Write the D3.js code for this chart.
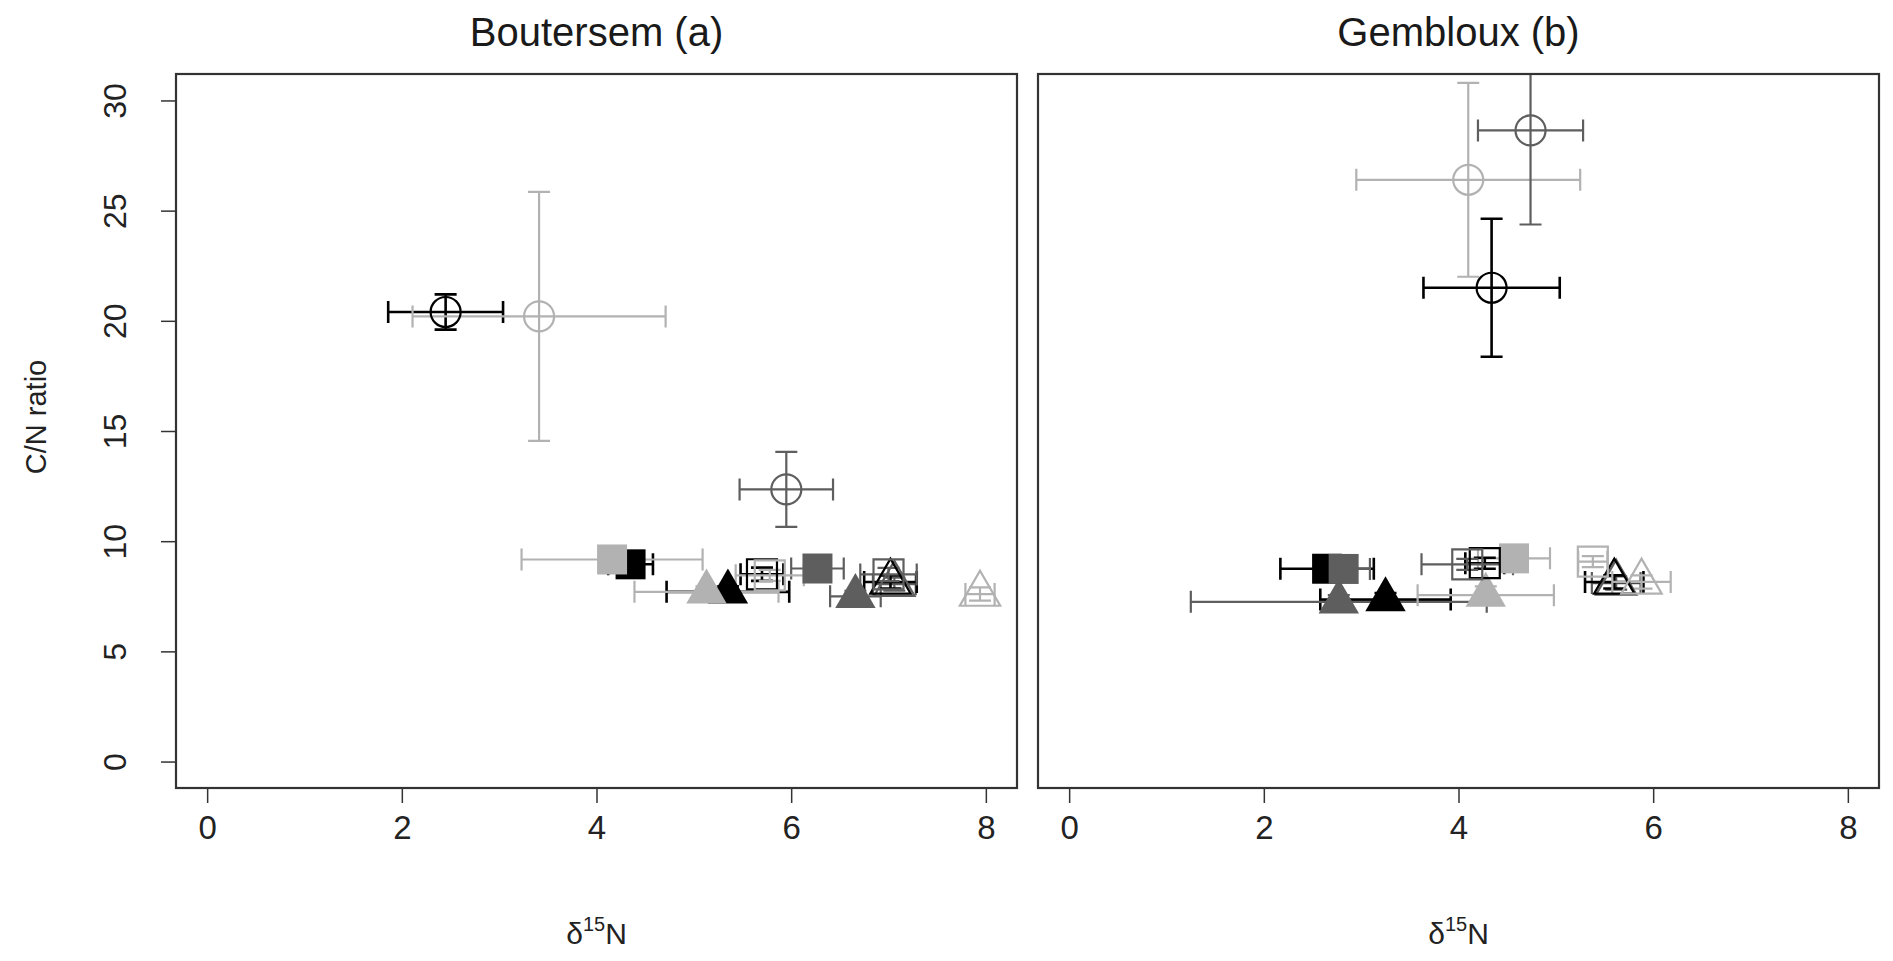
<!DOCTYPE html>
<html>
<head>
<meta charset="utf-8">
<script src="https://cdn.jsdelivr.net/npm/d3@7"></script>
<style>
  html, body { margin: 0; padding: 0; background: #ffffff; }
  svg { display: block; font-family: "Liberation Sans", Arial, sans-serif; }
</style>
</head>
<body>
<svg id="chart" width="1893" height="961"></svg>
<script>
// Series in drawing order: marker shape, grey tone, open/filled
const seriesShape = ["circle", "circle", "circle",
  "triangle", "triangle", "triangle",
  "triangle", "triangle", "triangle",
  "square", "square", "square",
  "square", "square", "square"];
const seriesTone = ["black", "light", "dark",
  "black", "dark", "light",
  "dark", "black", "light",
  "black", "dark", "light",
  "black", "dark", "light"];
const seriesOpen = [true, true, true,
  false, false, false,
  true, true, true,
  false, false, false,
  true, true, true];

// Boutersem: mean δ15N, its SE, mean C/N, its SE
const boutersemX    = [2.45, 3.41, 5.95, 5.35, 6.66, 5.13, 7.06, 7.02, 7.94, 4.35, 6.27, 4.16, 5.70, 7.00, 5.78];
const boutersemXErr = [0.59, 1.30, 0.48, 0.63, 0.26, 0.74, 0.22, 0.27, 0.15, 0.23, 0.27, 0.93, 0.22, 0.29, 0.35];
const boutersemY    = [20.4, 20.2, 12.35, 7.70, 7.50, 7.70, 8.05, 8.15, 7.60, 8.95, 8.76, 9.17, 8.50, 8.49, 8.45];
const boutersemYErr = [0.80, 5.65, 1.70, 0.25, 0.25, 0.25, 0.30, 0.30, 0.30, 0.20, 0.20, 0.20, 0.30, 0.30, 0.25];

// Gembloux
const gemblouxX    = [4.34, 4.10, 4.74, 3.25, 2.77, 4.28, 5.62, 5.60, 5.88, 2.65, 2.82, 4.57, 4.27, 4.09, 5.38];
const gemblouxXErr = [0.70, 1.15, 0.54, 0.67, 1.52, 0.70, 0.25, 0.30, 0.30, 0.48, 0.27, 0.37, 0.20, 0.47, 0.15];
const gemblouxY    = [21.5, 26.4, 28.64, 7.35, 7.25, 7.55, 8.10, 8.15, 8.15, 8.75, 8.74, 9.22, 9.00, 8.95, 9.07];
const gemblouxYErr = [3.13, 4.40, 4.27, 0.30, 0.30, 0.40, 0.30, 0.30, 0.30, 0.25, 0.25, 0.25, 0.25, 0.25, 0.25];

const panelTitles = ["Boutersem (a)", "Gembloux (b)"];
const xTicks = [0, 2, 4, 6, 8];
const yTicks = [0, 5, 10, 15, 20, 25, 30];
const xRange = [0, 8];
const yRange = [0, 30];

const toneColour = { black: "#000000", dark: "#5e5e5e", light: "#b2b2b2" };
const svg = d3.select("#chart");

// R-style 4% padding around the data range
function padded(r) { const p = (r[1] - r[0]) * 0.04; return [r[0] - p, r[1] + p]; }

const plotTop = 74, plotBottom = 788;
const panels = [
  { left: 176, right: 1017, title: panelTitles[0], x: boutersemX, xe: boutersemXErr, y: boutersemY, ye: boutersemYErr, yAxis: true },
  { left: 1038, right: 1879, title: panelTitles[1], x: gemblouxX, xe: gemblouxXErr, y: gemblouxY, ye: gemblouxYErr, yAxis: false }
];

const symbolFor = {
  circle: d3.symbol().type(d3.symbolCircle).size(Math.PI * 15 * 15),
  square: d3.symbol().type(d3.symbolSquare).size(30 * 30),
  triangle: d3.symbol().type(d3.symbolTriangle).size(707)
};
const cap = 11;

panels.forEach((p, pi) => {
  const x = d3.scaleLinear().domain(padded(xRange)).range([p.left, p.right]);
  const y = d3.scaleLinear().domain(padded(yRange)).range([plotBottom, plotTop]);
  const g = svg.append("g");

  const clipId = "plotclip" + pi;
  svg.append("clipPath").attr("id", clipId)
    .append("rect").attr("x", p.left).attr("y", plotTop)
    .attr("width", p.right - p.left).attr("height", plotBottom - plotTop);

  // Title
  g.append("text").attr("x", (p.left + p.right) / 2).attr("y", 46)
    .attr("text-anchor", "middle").attr("font-size", 40).attr("fill", "#1a1a1a")
    .text(p.title);

  // X axis
  const xAxis = d3.axisBottom(x).tickValues(xTicks).tickSize(15).tickPadding(13).tickFormat(d3.format("d"));
  const xa = g.append("g").attr("transform", `translate(0,${plotBottom})`).call(xAxis);
  xa.select(".domain").remove();
  xa.selectAll("line").attr("stroke", "#333").attr("stroke-width", 1.5);
  xa.selectAll("text").attr("font-size", 33).attr("fill", "#222")
    .attr("font-family", "Liberation Sans, Arial, sans-serif");

  // X axis title: δ15N
  const xl = g.append("text").attr("x", (p.left + p.right) / 2).attr("y", 944)
    .attr("text-anchor", "middle").attr("font-size", 30).attr("fill", "#222");
  xl.append("tspan").text("δ");
  xl.append("tspan").attr("font-size", 20).attr("dy", -13).text("15");
  xl.append("tspan").attr("dy", 13).text("N");

  if (p.yAxis) {
    const yAxis = d3.axisLeft(y).tickValues(yTicks).tickSize(15).tickFormat(d3.format("d"));
    const ya = g.append("g").attr("transform", `translate(${p.left},0)`).call(yAxis);
    ya.select(".domain").remove();
    ya.selectAll("line").attr("stroke", "#333").attr("stroke-width", 1.5);
    ya.selectAll("text").remove();
    ya.selectAll(".tick").append("text")
      .attr("transform", "translate(-61,0) rotate(-90)")
      .attr("text-anchor", "middle").attr("dominant-baseline", "central")
      .attr("font-size", 32).attr("fill", "#222")
      .attr("font-family", "Liberation Sans, Arial, sans-serif")
      .text(d => d);
    g.append("text")
      .attr("transform", `translate(36,417) rotate(-90)`)
      .attr("text-anchor", "middle").attr("dominant-baseline", "central")
      .attr("font-size", 29).attr("fill", "#222")
      .text("C/N ratio");
  }

  // Error bars
  const bars = g.append("g").attr("clip-path", `url(#${clipId})`);
  p.x.forEach((xv, i) => {
    const col = toneColour[seriesTone[i]];
    const w = seriesTone[i] === "black" ? 2.6 : 2.2;
    const cx = x(xv), cy = y(p.y[i]);
    const x0 = x(xv - p.xe[i]), x1 = x(xv + p.xe[i]);
    const y0 = y(p.y[i] - p.ye[i]), y1 = y(p.y[i] + p.ye[i]);
    const path = d3.path();
    path.moveTo(x0, cy); path.lineTo(x1, cy);
    path.moveTo(x0, cy - cap); path.lineTo(x0, cy + cap);
    path.moveTo(x1, cy - cap); path.lineTo(x1, cy + cap);
    path.moveTo(cx, y0); path.lineTo(cx, y1);
    path.moveTo(cx - cap, y0); path.lineTo(cx + cap, y0);
    path.moveTo(cx - cap, y1); path.lineTo(cx + cap, y1);
    bars.append("path").attr("d", path.toString())
      .attr("fill", "none").attr("stroke", col).attr("stroke-width", w);
  });

  // Markers
  const marks = g.append("g");
  p.x.forEach((xv, i) => {
    const col = toneColour[seriesTone[i]];
    marks.append("path")
      .attr("d", symbolFor[seriesShape[i]]())
      .attr("transform", `translate(${x(xv)},${y(p.y[i])})`)
      .attr("fill", seriesOpen[i] ? "none" : col)
      .attr("stroke", col)
      .attr("stroke-width", seriesOpen[i] ? 2.2 : 0);
  });

  // Plot frame
  g.append("rect").attr("x", p.left).attr("y", plotTop)
    .attr("width", p.right - p.left).attr("height", plotBottom - plotTop)
    .attr("fill", "none").attr("stroke", "#333").attr("stroke-width", 2.2);
});
</script>
</body>
</html>
